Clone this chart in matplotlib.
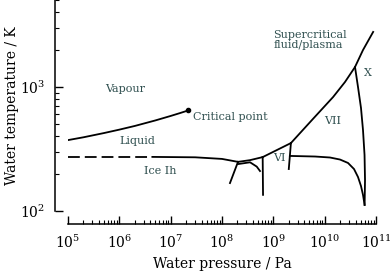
import numpy as np
import matplotlib
matplotlib.use("Agg")
import matplotlib.pyplot as plt

plt.rcParams['font.family'] = 'DejaVu Serif'
plt.rcParams['lines.scale_dashes'] = False

# boiling curve up to the critical point (Pa, K)
boil_p = [1e5, 2e5, 5e5, 1e6, 2e6, 5e6, 1e7, 1.5e7, 2.2e7]
boil_t = [373, 393, 425, 453, 485, 537, 584, 615, 647]
crit_p, crit_t = 2.2e7, 647

# melting of ice Ih
melt_dash_p = [1e5, 4.4e6]
melt_dash_t = [273, 273]
melt_ih_p = [4.4e6, 3e7, 1e8, 2.05e8]
melt_ih_t = [273, 271, 263, 249]

# liquid / III / V / VI
melt_hp_p = [2.05e8, 3.5e8, 6.2e8]
melt_hp_t = [249, 257, 272]
ih_ii_p = [2.05e8, 1.43e8]
ih_ii_t = [249, 168]
iii_v_p = [2.05e8, 3.52e8, 4.75e8, 5.5e8]
iii_v_t = [239, 247, 228, 210]
v_vi_p = [6.2e8, 6.3e8]
v_vi_t = [272, 135]
melt_vi_p = [6.2e8, 2.2e9]
melt_vi_t = [272, 353]

# ice VII melting and high-pressure boundaries
melt_vii_p = [2.2e9, 5.9e9, 1.46e10, 2.49e10, 3.9e10, 5.58e10, 8.8e10]
melt_vii_t = [353, 552, 830, 1097, 1449, 1986, 2780]
vi_vii_p = [2.2e9, 2.0e9]
vi_vii_t = [353, 218]
vii_viii_p = [2.1e9, 6.49e9, 1.27e10, 1.99e10, 2.85e10, 3.73e10, 4.46e10,
              5.1e10, 5.58e10, 6.0e10]
vii_viii_t = [278, 275, 270, 260, 244, 218, 188, 159, 135, 112]
vii_x_p = [3.9e10, 4.46e10, 5.1e10, 5.58e10, 5.98e10, 6.11e10, 6.0e10]
vii_x_t = [1449, 1000, 678, 450, 283, 178, 112]

# region labels: text, pressure, temperature, alignment
labels = [
    ("Vapour", 1.3e6, 964, 'center'),
    ("Liquid", 2.26e6, 367, 'center'),
    ("Ice Ih", 6.2e6, 210, 'center'),
    ("Critical point", 2.7e7, 575, 'left'),
    ("Supercritical\nfluid/plasma", 9.9e8, 2395, 'left'),
    ("X", 6.84e10, 1285, 'center'),
    ("VII", 1.46e10, 527, 'center'),
    ("VI", 1.32e9, 267, 'center'),
]

fig = plt.figure(figsize=(3.91, 2.71), dpi=100)
ax = fig.add_axes([68 / 391, 60 / 271, 308 / 391, 210.7 / 271])

kw = dict(color='k', lw=1.3)
ax.plot(boil_p, boil_t, **kw)
ax.plot([crit_p], [crit_t], 'o', color='k', ms=3)
ax.plot(melt_dash_p, melt_dash_t, dashes=(8.5, 3.6), **kw)
for p, t in [(melt_ih_p, melt_ih_t), (melt_hp_p, melt_hp_t), (ih_ii_p, ih_ii_t),
             (iii_v_p, iii_v_t), (v_vi_p, v_vi_t), (melt_vi_p, melt_vi_t),
             (melt_vii_p, melt_vii_t), (vi_vii_p, vi_vii_t),
             (vii_viii_p, vii_viii_t), (vii_x_p, vii_x_t)]:
    ax.plot(p, t, **kw)

for txt, p, t, ha in labels:
    ax.text(p, t, txt, ha=ha, va='center', fontsize=8, color='#2f4f4f',
            linespacing=1.0)

ax.set_xscale('log')
ax.set_yscale('log')
ax.set_xlim(1e5, 1e11)
ax.set_ylim(100, 5000)
ax.set_xticks([10.0**k for k in range(5, 12)])

for s in ['top', 'right']:
    ax.spines[s].set_visible(False)
for s in ['left', 'bottom']:
    ax.spines[s].set_position(('outward', 9.4))
    ax.spines[s].set_linewidth(1.1)
ax.tick_params(which='major', direction='in', length=6, width=1.0, pad=7,
               labelsize=10)
ax.tick_params(which='minor', direction='in', length=3, width=0.8)

ax.set_xlabel("Water pressure / Pa", fontsize=10)
ax.set_ylabel("Water temperature / K", fontsize=10, labelpad=0.5)

fig.savefig("out.png", dpi=100)
